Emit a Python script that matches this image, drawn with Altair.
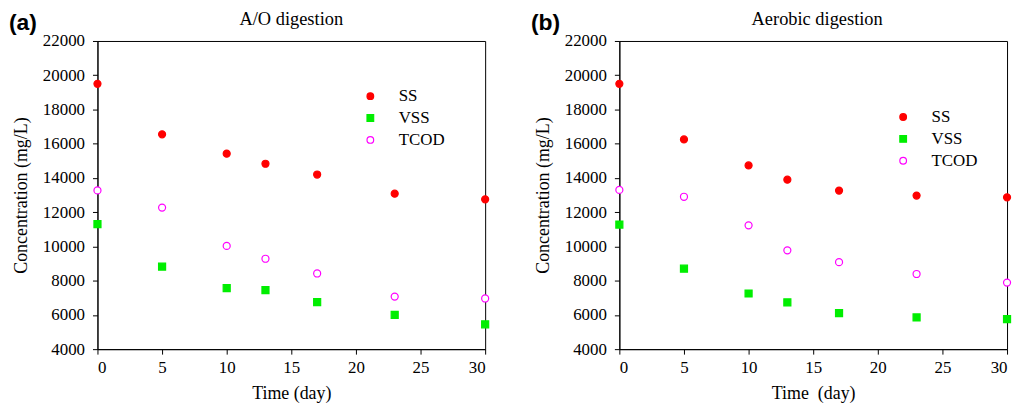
import altair as alt
import pandas as pd

days = [0, 5, 10, 13, 17, 23, 30]
series_names = ["SS", "VSS", "TCOD"]

# Panel (a): A/O digestion
ao_ss = [19500, 16550, 15420, 14830, 14200, 13080, 12750]
ao_vss = [11300, 8820, 7570, 7450, 6750, 6000, 5450]
ao_tcod = [13270, 12270, 10030, 9280, 8420, 7070, 6960]

# Panel (b): Aerobic digestion
ae_ss = [19500, 16250, 14730, 13900, 13260, 12970, 12870]
ae_vss = [11280, 8700, 7250, 6730, 6110, 5850, 5760]
ae_tcod = [13300, 12900, 11230, 9770, 9080, 8390, 7890]

x_ticks = [0, 5, 10, 15, 20, 25, 30]
y_ticks = list(range(4000, 22001, 2000))

FONT = "Liberation Serif"
W, H = 390, 310


def make_df(ss, vss, tcod):
    rows = []
    for name, vals in zip(series_names, [ss, vss, tcod]):
        for d, v in zip(days, vals):
            rows.append({"day": d, "conc": v, "series": name})
    return pd.DataFrame(rows)


def panel(df, title, tag, lx, ly, xtitle, title_dx):
    leg = alt.Legend(
        title=None, orient="none", legendX=lx, legendY=ly,
        labelFont=FONT, labelFontSize=17, labelColor="black",
        labelOffset=20, rowPadding=4, padding=0, symbolSize=45,
        symbolStrokeWidth=1.2,
    )
    points = alt.Chart(df).mark_point(size=50, strokeWidth=1.2, opacity=1).encode(
        x=alt.X("day:Q", scale=alt.Scale(domain=[0, 30], nice=False),
                axis=alt.Axis(values=x_ticks, title=xtitle, grid=False, format="d")),
        y=alt.Y("conc:Q", scale=alt.Scale(domain=[4000, 22000], nice=False),
                axis=alt.Axis(values=y_ticks, title="Concentration (mg/L)", grid=False, format="d")),
        shape=alt.Shape("series:N", sort=series_names,
                        scale=alt.Scale(domain=series_names, range=["circle", "square", "circle"]),
                        legend=leg),
        fill=alt.Fill("series:N", sort=series_names,
                      scale=alt.Scale(domain=series_names, range=["#ff0000", "#00ee00", "white"]),
                      legend=leg),
        stroke=alt.Stroke("series:N", sort=series_names,
                          scale=alt.Scale(domain=series_names, range=["#ff0000", "#00ee00", "#ff00ff"]),
                          legend=leg),
    )
    tag_mark = alt.Chart(pd.DataFrame({"t": [tag]})).mark_text(
        font="Liberation Sans", fontWeight="bold", fontSize=23,
        align="left", baseline="alphabetic", color="black",
    ).encode(text="t:N", x=alt.value(-89), y=alt.value(-11))
    title_mark = alt.Chart(pd.DataFrame({"t": [title]})).mark_text(
        font=FONT, fontSize=18.5, align="center", baseline="alphabetic", color="black",
        dx=title_dx,
    ).encode(text="t:N", x=alt.value(W / 2), y=alt.value(-16))
    return alt.layer(points, tag_mark, title_mark).properties(width=W, height=H)


left = panel(make_df(ao_ss, ao_vss, ao_tcod), "A/O digestion", "(a)", 266, 47, "Time (day)", 0)
right = panel(make_df(ae_ss, ae_vss, ae_tcod), "Aerobic digestion", "(b)", 277, 68, "Time\u2002(day)", 4)

chart = alt.hconcat(left, right, spacing=38).resolve_scale(
    shape="independent", fill="independent", stroke="independent"
).resolve_legend(
    shape="independent", fill="independent", stroke="independent"
).configure(
    padding={"left": 0, "top": 0, "right": 0, "bottom": 0}
).configure_view(
    stroke="black", strokeWidth=1
).configure_axis(
    labelFont=FONT, labelFontSize=17, labelColor="black",
    titleFont=FONT, titleFontSize=18, titleFontWeight="normal", titleColor="black",
    domainColor="black", tickColor="black", tickSize=5, domainWidth=1, tickWidth=1,
    labelPadding=5,
).configure_axisY(
    titlePadding=12, labelPadding=8,
).configure_axisX(
    titlePadding=10,
)

chart.save("out.html", embed_options={"renderer": "svg", "actions": False})
